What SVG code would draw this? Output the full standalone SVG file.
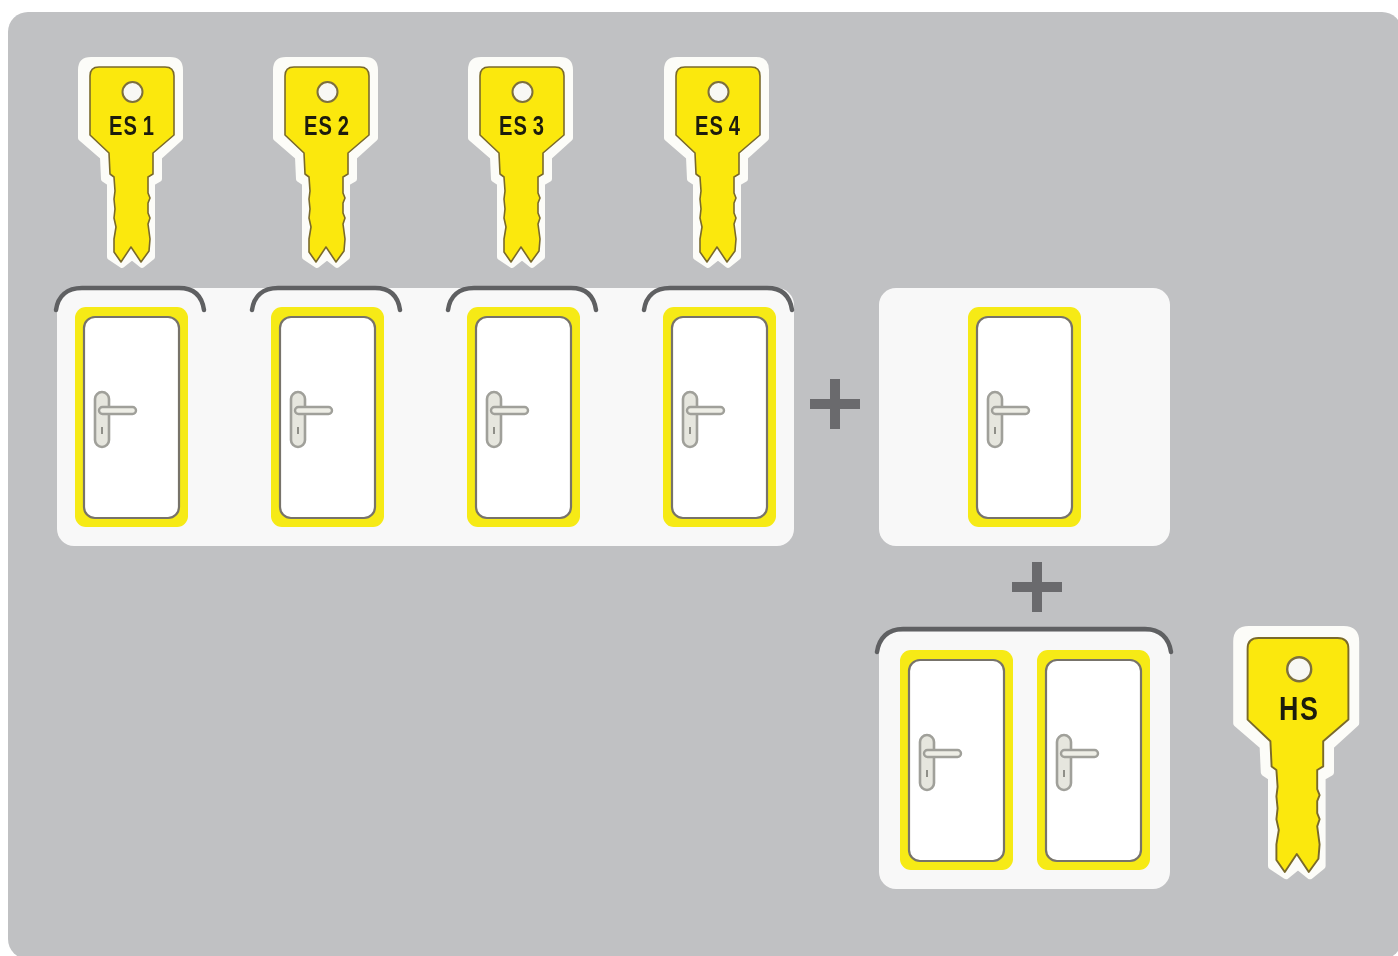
<svg xmlns="http://www.w3.org/2000/svg" width="1398" height="956" viewBox="0 0 1398 956">
<style>
.panel{fill:#f8f8f8}
.bracket{fill:none;stroke:#5f6062;stroke-width:4.5;stroke-linecap:round}
.plus{fill:#6a6b6d}
.keytext{font-family:"Liberation Sans",Arial,sans-serif;font-weight:700;font-size:28px;fill:#1c1a10;text-anchor:middle;letter-spacing:1.5px;word-spacing:-3px}
.halo{fill:#fcfcf8;stroke:#fcfcf8;stroke-width:6;stroke-linejoin:round}
.blade{fill:#fbe80f;stroke:#7a6a2c;stroke-width:1.6;stroke-linejoin:round}
.hole{fill:#f8f8f4;stroke:#7d6f3e;stroke-width:2}
</style>
<defs>
<filter id="soft" x="0" y="0" width="100%" height="100%"><feGaussianBlur stdDeviation="0.7"/></filter>
<path id="keyhalo" d="M-51 3Q-51 -7 -41 -7L38 -7Q48 -7 48 3L48 71L27 90L27 112L20 116L20 190L10 198L0 190L-10 198L-22 190L-22 116L-28 112L-29 90L-51 71Z"/>
<path id="keyshape" d="M-42 9Q-42 0-33 0L33 0Q42 0 42 9L42 68L21 86L21 107L16 110L16 126L18 131L16 136L16 146L18 151L16 157L18 172L17 184L9 195L-1 180L-11 195L-18 185L-18 172L-16 160L-18 151L-17 142L-18 132L-17 124L-18 110L-22 107L-23 86L-42 68Z"/>
<g id="door">
<rect x="0" y="0" width="113" height="220" rx="11" fill="#f6ea12"/>
<rect x="9" y="10" width="95" height="201" rx="11" fill="#ffffff" stroke="#77736a" stroke-width="2.2"/>
<rect x="20" y="85" width="14" height="55" rx="7" fill="#e6e6de" stroke="#a0a09a" stroke-width="2.6"/>
<rect x="24" y="100" width="37" height="7" rx="3.5" fill="#eeeee6" stroke="#a0a09a" stroke-width="2.4"/>
<rect x="26" y="120" width="2" height="7" fill="#8f8f88"/>
</g>
</defs>
<rect width="1398" height="956" fill="#ffffff"/>
<g filter="url(#soft)">
<rect x="8" y="12" width="1394" height="947" rx="20" fill="#c0c1c3"/>

<g id="panel-main"><rect class="panel" x="57" y="288" width="737" height="258" rx="17"/></g>
<g id="panel-single"><rect class="panel" x="879" y="288" width="291" height="258" rx="17"/></g>
<g id="panel-pair"><rect class="panel" x="879" y="632" width="291" height="257" rx="17"/></g>

<g id="key-es1" transform="translate(132 67)"><use href="#keyhalo" class="halo"/><use href="#keyshape" class="blade"/><circle class="hole" cx="0.5" cy="25" r="10"/><text class="keytext" transform="translate(0 68) scale(.72 1)">ES 1</text></g>
<g id="key-es2" transform="translate(327 67)"><use href="#keyhalo" class="halo"/><use href="#keyshape" class="blade"/><circle class="hole" cx="0.5" cy="25" r="10"/><text class="keytext" transform="translate(0 68) scale(.72 1)">ES 2</text></g>
<g id="key-es3" transform="translate(522 67)"><use href="#keyhalo" class="halo"/><use href="#keyshape" class="blade"/><circle class="hole" cx="0.5" cy="25" r="10"/><text class="keytext" transform="translate(0 68) scale(.72 1)">ES 3</text></g>
<g id="key-es4" transform="translate(718 67)"><use href="#keyhalo" class="halo"/><use href="#keyshape" class="blade"/><circle class="hole" cx="0.5" cy="25" r="10"/><text class="keytext" transform="translate(0 68) scale(.72 1)">ES 4</text></g>
<g id="key-hs" transform="translate(1298 638) scale(1.2)"><use href="#keyhalo" class="halo"/><use href="#keyshape" class="blade"/><circle class="hole" cx="1" cy="26" r="10"/><text class="keytext" transform="translate(1 68) scale(.8 1)">HS</text></g>

<g id="door-1" transform="translate(75 307)"><use href="#door"/></g>
<g id="door-2" transform="translate(271 307)"><use href="#door"/></g>
<g id="door-3" transform="translate(467 307)"><use href="#door"/></g>
<g id="door-4" transform="translate(663 307)"><use href="#door"/></g>
<g id="door-5" transform="translate(968 307)"><use href="#door"/></g>
<g id="door-6" transform="translate(900 650)"><use href="#door"/></g>
<g id="door-7" transform="translate(1037 650)"><use href="#door"/></g>

<g id="connectors">
<path class="bracket" d="M56 310C58 296 67 288 82 288L179 288C194 288 202 296 204 310"/>
<path class="bracket" d="M252 310C254 296 263 288 278 288L375 288C390 288 398 296 400 310"/>
<path class="bracket" d="M448 310C450 296 459 288 474 288L571 288C586 288 594 296 596 310"/>
<path class="bracket" d="M644 310C646 296 655 288 670 288L767 288C782 288 790 296 792 310"/>
<path class="bracket" d="M877 652C879 638 888 629 903 629L1145 629C1160 629 1169 638 1171 652"/>
<path class="plus" d="M830 379h10v20h20v10h-20v20h-10v-20h-20v-10h20z"/>
<path class="plus" d="M1032 562h10v20h20v10h-20v20h-10v-20h-20v-10h20z"/>
</g>
</g>
</svg>
